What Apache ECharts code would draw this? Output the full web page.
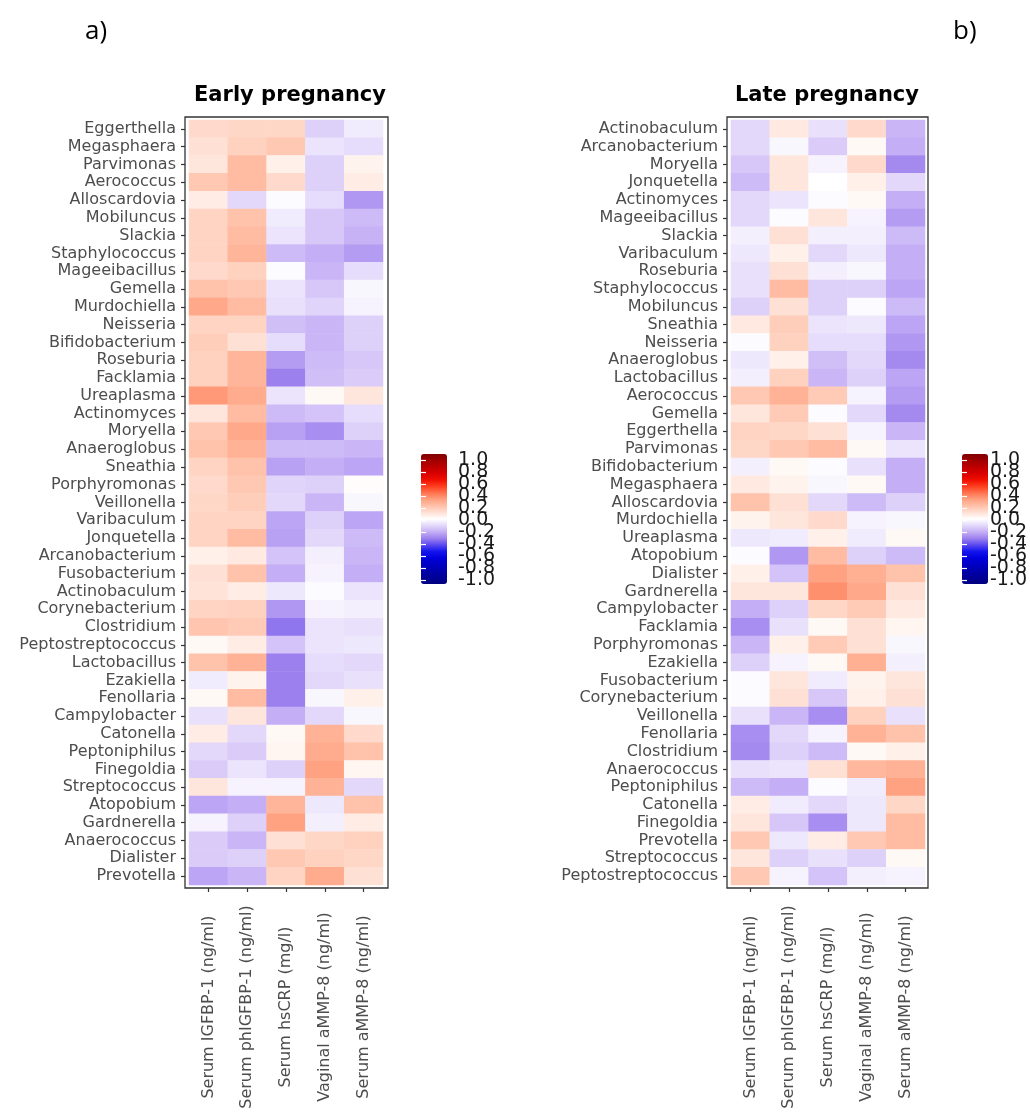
<!DOCTYPE html>
<html><head><meta charset="utf-8">
<script src="https://cdn.jsdelivr.net/npm/echarts@6/dist/echarts.min.js"></script>
<style>html,body{margin:0;padding:0;background:#fff}#c{width:1030px;height:1112px}</style>
</head><body><div id="c"></div>
<script>
const measures = ['Serum IGFBP-1 (ng/ml)', 'Serum phIGFBP-1 (ng/ml)', 'Serum hsCRP (mg/l)', 'Vaginal aMMP-8 (ng/ml)', 'Serum aMMP-8 (ng/ml)'];

const earlyTaxa = ['Eggerthella','Megasphaera','Parvimonas','Aerococcus','Alloscardovia','Mobiluncus','Slackia','Staphylococcus','Mageeibacillus','Gemella','Murdochiella','Neisseria','Bifidobacterium','Roseburia','Facklamia','Ureaplasma','Actinomyces','Moryella','Anaeroglobus','Sneathia','Porphyromonas','Veillonella','Varibaculum','Jonquetella','Arcanobacterium','Fusobacterium','Actinobaculum','Corynebacterium','Clostridium','Peptostreptococcus','Lactobacillus','Ezakiella','Fenollaria','Campylobacter','Catonella','Peptoniphilus','Finegoldia','Streptococcus','Atopobium','Gardnerella','Anaerococcus','Dialister','Prevotella'];

const earlyValues = [
  [0.12, 0.13, 0.13, -0.12, -0.05],
  [0.10, 0.15, 0.18, -0.07, -0.09],
  [0.08, 0.22, 0.05, -0.12, 0.04],
  [0.18, 0.22, 0.12, -0.12, 0.06],
  [0.06, -0.10, -0.01, -0.09, -0.25],
  [0.14, 0.20, -0.05, -0.14, -0.17],
  [0.14, 0.22, -0.07, -0.14, -0.19],
  [0.14, 0.24, -0.17, -0.20, -0.24],
  [0.12, 0.15, -0.01, -0.18, -0.09],
  [0.20, 0.18, -0.07, -0.14, -0.02],
  [0.28, 0.22, -0.08, -0.11, -0.03],
  [0.14, 0.14, -0.16, -0.18, -0.12],
  [0.16, 0.10, -0.09, -0.18, -0.12],
  [0.15, 0.24, -0.24, -0.17, -0.14],
  [0.15, 0.24, -0.30, -0.16, -0.13],
  [0.32, 0.27, -0.07, 0.02, 0.08],
  [0.08, 0.22, -0.17, -0.15, -0.09],
  [0.18, 0.28, -0.23, -0.27, -0.12],
  [0.20, 0.25, -0.17, -0.17, -0.18],
  [0.14, 0.20, -0.23, -0.20, -0.22],
  [0.12, 0.18, -0.11, -0.12, 0.01],
  [0.13, 0.16, -0.10, -0.18, -0.02],
  [0.14, 0.14, -0.22, -0.12, -0.22],
  [0.14, 0.22, -0.23, -0.10, -0.17],
  [0.05, 0.07, -0.15, -0.04, -0.18],
  [0.10, 0.20, -0.20, -0.03, -0.20],
  [0.09, 0.06, -0.06, -0.01, -0.07],
  [0.14, 0.15, -0.25, -0.03, -0.04],
  [0.19, 0.17, -0.32, -0.07, -0.08],
  [0.02, 0.06, -0.15, -0.07, -0.06],
  [0.20, 0.25, -0.30, -0.09, -0.10],
  [-0.05, 0.04, -0.30, -0.10, -0.08],
  [0.02, 0.22, -0.30, -0.02, 0.05],
  [-0.08, 0.08, -0.20, -0.10, -0.02],
  [0.06, -0.10, 0.02, 0.25, 0.12],
  [-0.10, -0.13, 0.03, 0.27, 0.20],
  [-0.13, -0.07, -0.12, 0.30, 0.03],
  [0.08, -0.03, -0.03, 0.25, -0.10],
  [-0.22, -0.20, 0.24, -0.06, 0.20],
  [-0.03, -0.12, 0.30, -0.04, 0.06],
  [-0.13, -0.18, 0.10, 0.13, 0.15],
  [-0.13, -0.12, 0.18, 0.15, 0.13],
  [-0.22, -0.18, 0.14, 0.27, 0.10]
];

const lateTaxa = ['Actinobaculum','Arcanobacterium','Moryella','Jonquetella','Actinomyces','Mageeibacillus','Slackia','Varibaculum','Roseburia','Staphylococcus','Mobiluncus','Sneathia','Neisseria','Anaeroglobus','Lactobacillus','Aerococcus','Gemella','Eggerthella','Parvimonas','Bifidobacterium','Megasphaera','Alloscardovia','Murdochiella','Ureaplasma','Atopobium','Dialister','Gardnerella','Campylobacter','Facklamia','Porphyromonas','Ezakiella','Fusobacterium','Corynebacterium','Veillonella','Fenollaria','Clostridium','Anaerococcus','Peptoniphilus','Catonella','Finegoldia','Prevotella','Streptococcus','Peptostreptococcus'];

const lateValues = [
  [-0.10, 0.07, -0.08, 0.12, -0.18],
  [-0.10, -0.02, -0.13, 0.02, -0.20],
  [-0.14, 0.08, -0.03, 0.12, -0.28],
  [-0.17, 0.08, 0.00, 0.05, -0.10],
  [-0.10, -0.07, -0.01, 0.02, -0.20],
  [-0.10, -0.01, 0.08, -0.03, -0.24],
  [-0.04, 0.10, -0.04, -0.04, -0.17],
  [-0.06, 0.05, -0.10, -0.06, -0.20],
  [-0.08, 0.10, -0.04, -0.02, -0.20],
  [-0.08, 0.22, -0.12, -0.12, -0.22],
  [-0.12, 0.10, -0.12, -0.01, -0.17],
  [0.07, 0.16, -0.07, -0.06, -0.22],
  [-0.01, 0.15, -0.09, -0.09, -0.25],
  [-0.06, 0.05, -0.16, -0.10, -0.28],
  [-0.04, 0.15, -0.18, -0.12, -0.22],
  [0.18, 0.25, 0.17, -0.03, -0.24],
  [0.08, 0.17, -0.01, -0.10, -0.28],
  [0.14, 0.13, 0.10, -0.03, -0.18],
  [0.13, 0.18, 0.22, 0.02, -0.07],
  [-0.04, 0.02, -0.01, -0.08, -0.20],
  [0.07, 0.04, -0.02, 0.02, -0.20],
  [0.20, 0.10, -0.10, -0.17, -0.12],
  [0.04, 0.08, 0.12, -0.03, -0.02],
  [-0.06, -0.05, 0.05, -0.05, 0.02],
  [-0.01, -0.25, 0.22, -0.12, -0.17],
  [0.05, -0.15, 0.30, 0.26, 0.20],
  [0.08, 0.08, 0.34, 0.28, 0.10],
  [-0.20, -0.12, 0.13, 0.17, 0.07],
  [-0.27, -0.08, 0.02, 0.10, 0.03],
  [-0.18, 0.05, 0.17, 0.10, -0.02],
  [-0.12, -0.03, 0.02, 0.26, -0.04],
  [-0.01, 0.08, -0.05, 0.04, 0.08],
  [-0.01, 0.10, -0.14, 0.05, 0.10],
  [-0.08, -0.18, -0.27, 0.15, -0.08],
  [-0.27, -0.10, -0.03, 0.25, 0.20],
  [-0.28, -0.12, -0.17, 0.02, 0.05],
  [-0.08, -0.07, 0.10, 0.23, 0.25],
  [-0.17, -0.20, -0.01, -0.05, 0.30],
  [0.06, -0.05, -0.10, -0.06, 0.13],
  [0.08, -0.14, -0.27, -0.06, 0.22],
  [0.18, -0.06, 0.06, 0.18, 0.22],
  [0.08, -0.12, -0.08, -0.12, 0.02],
  [0.18, -0.03, -0.15, -0.04, -0.03]
];

const legendMin = -1, legendMax = 1;
// colour-bar tick labels, bottom to top
const legendLabels = ['-1.0', '-0.8', '-0.6', '-0.4', '-0.2', '0.0', '0.2', '0.4', '0.6', '0.8', '1.0'];
// colours at -1.0, -0.9, ..., 0.9, 1.0
const palette = ['#00007F','#000096','#0000AC','#0000C4','#0000DC','#1414EE','#5A48F0','#9C80EE','#C4AEF5','#E3D8FA','#FFFFFF','#FFE0D4','#FFC2AA','#FFA282','#FF7450','#FF4020','#F01000','#D80000','#BE0000','#A00000','#7F0000'];

function toCells(values) {
  const out = [];
  values.forEach((row, i) => row.forEach((v, j) => out.push([j, i, v])));
  return out;
}

const panels = [
  {taxa: earlyTaxa, values: earlyValues, cellLeft: 189, boxLeft: 185, boxWidth: 203, legLeft: 421},
  {taxa: lateTaxa, values: lateValues, cellLeft: 731, boxLeft: 727, boxWidth: 201, legLeft: 962}
];
const cellTop = 120, cellHeight = 765, cellWidth = 194;
const labelColor = '#4D4D4D';
const FONT = 'DejaVu Sans';

const grid = [], xAxis = [], yAxis = [], series = [], visualMap = [];
panels.forEach((p, k) => {
  grid.push({left: p.cellLeft, top: cellTop, width: cellWidth, height: cellHeight, show: false});
  const gi = grid.length - 1;
  xAxis.push({
    type: 'category', gridIndex: gi, data: measures, position: 'bottom', offset: 3,
    axisLine: {show: false},
    axisTick: {show: true, alignWithLabel: true, length: 4, lineStyle: {color: '#333', width: 1.2}},
    axisLabel: {rotate: 90, align: 'center', verticalAlign: 'middle', margin: 119, fontSize: 16, fontFamily: FONT, color: labelColor, interval: 0},
    splitLine: {show: false}
  });
  yAxis.push({
    type: 'category', gridIndex: gi, data: p.taxa, inverse: true, position: 'left', offset: 4,
    axisLine: {show: false},
    axisTick: {show: true, alignWithLabel: true, length: 4, lineStyle: {color: '#333', width: 1.2}},
    axisLabel: {margin: 9, fontSize: 16, fontFamily: FONT, color: labelColor, interval: 0},
    splitLine: {show: false}
  });
  series.push({type: 'heatmap', xAxisIndex: xAxis.length - 1, yAxisIndex: yAxis.length - 1, data: toCells(p.values), itemStyle: {borderWidth: 0}, emphasis: {disabled: true}, progressive: 0});
  visualMap.push({
    type: 'continuous', seriesIndex: k, min: legendMin, max: legendMax, calculable: false, hoverLink: false,
    orient: 'vertical', left: p.legLeft, top: 454, itemWidth: 26, itemHeight: 130, padding: 0,
    text: null, showLabel: false, inRange: {color: palette}
  });
});
panels.forEach((p) => {
  grid.push({left: p.boxLeft, top: 117, width: p.boxWidth, height: 771, show: true, borderColor: '#333', borderWidth: 1.3, backgroundColor: 'transparent', z: 5});
  const gi = grid.length - 1;
  xAxis.push({type: 'value', gridIndex: gi, show: false, min: 0, max: 1});
  yAxis.push({type: 'value', gridIndex: gi, show: false, min: 0, max: 1});
});
panels.forEach((p) => {
  grid.push({left: p.legLeft, top: 460, width: 26, height: 120, show: false});
  const gi = grid.length - 1;
  xAxis.push({type: 'value', gridIndex: gi, show: false, min: 0, max: 1});
  yAxis.push({type: 'category', gridIndex: gi, data: legendLabels, boundaryGap: false, position: 'right', z: 10,
    axisLine: {show: false}, splitLine: {show: false},
    axisTick: {show: true, inside: true, length: 5, interval: 0, lineStyle: {color: '#fff', width: 1.2}},
    axisLabel: {show: true, interval: 0, margin: 11, fontSize: 19, fontFamily: FONT, color: '#1a1a1a', hideOverlap: false}});
  yAxis.push({type: 'category', gridIndex: gi, data: legendLabels, boundaryGap: false, position: 'left', z: 10,
    axisLine: {show: false}, splitLine: {show: false},
    axisTick: {show: true, inside: true, length: 5, interval: 0, lineStyle: {color: '#fff', width: 1.2}},
    axisLabel: {show: false}});
});

const chart = echarts.init(document.getElementById('c'), null, {renderer: 'canvas'});
chart.setOption({
  backgroundColor: '#fff',
  animation: false,
  title: [
    {text: 'Early pregnancy', left: 285, top: 80, textAlign: 'center', textStyle: {fontSize: 21, fontWeight: 'bold', fontFamily: FONT, color: '#000'}},
    {text: 'Late pregnancy', left: 822, top: 80, textAlign: 'center', textStyle: {fontSize: 21, fontWeight: 'bold', fontFamily: FONT, color: '#000'}},
    {text: 'a)', left: 80, top: 14, textStyle: {fontSize: 26, fontWeight: 'normal', fontFamily: 'Open Sans', color: '#000'}},
    {text: 'b)', left: 948, top: 14, textStyle: {fontSize: 26, fontWeight: 'normal', fontFamily: 'Open Sans', color: '#000'}}
  ],
  grid, xAxis, yAxis, series, visualMap
});
</script></body></html>
